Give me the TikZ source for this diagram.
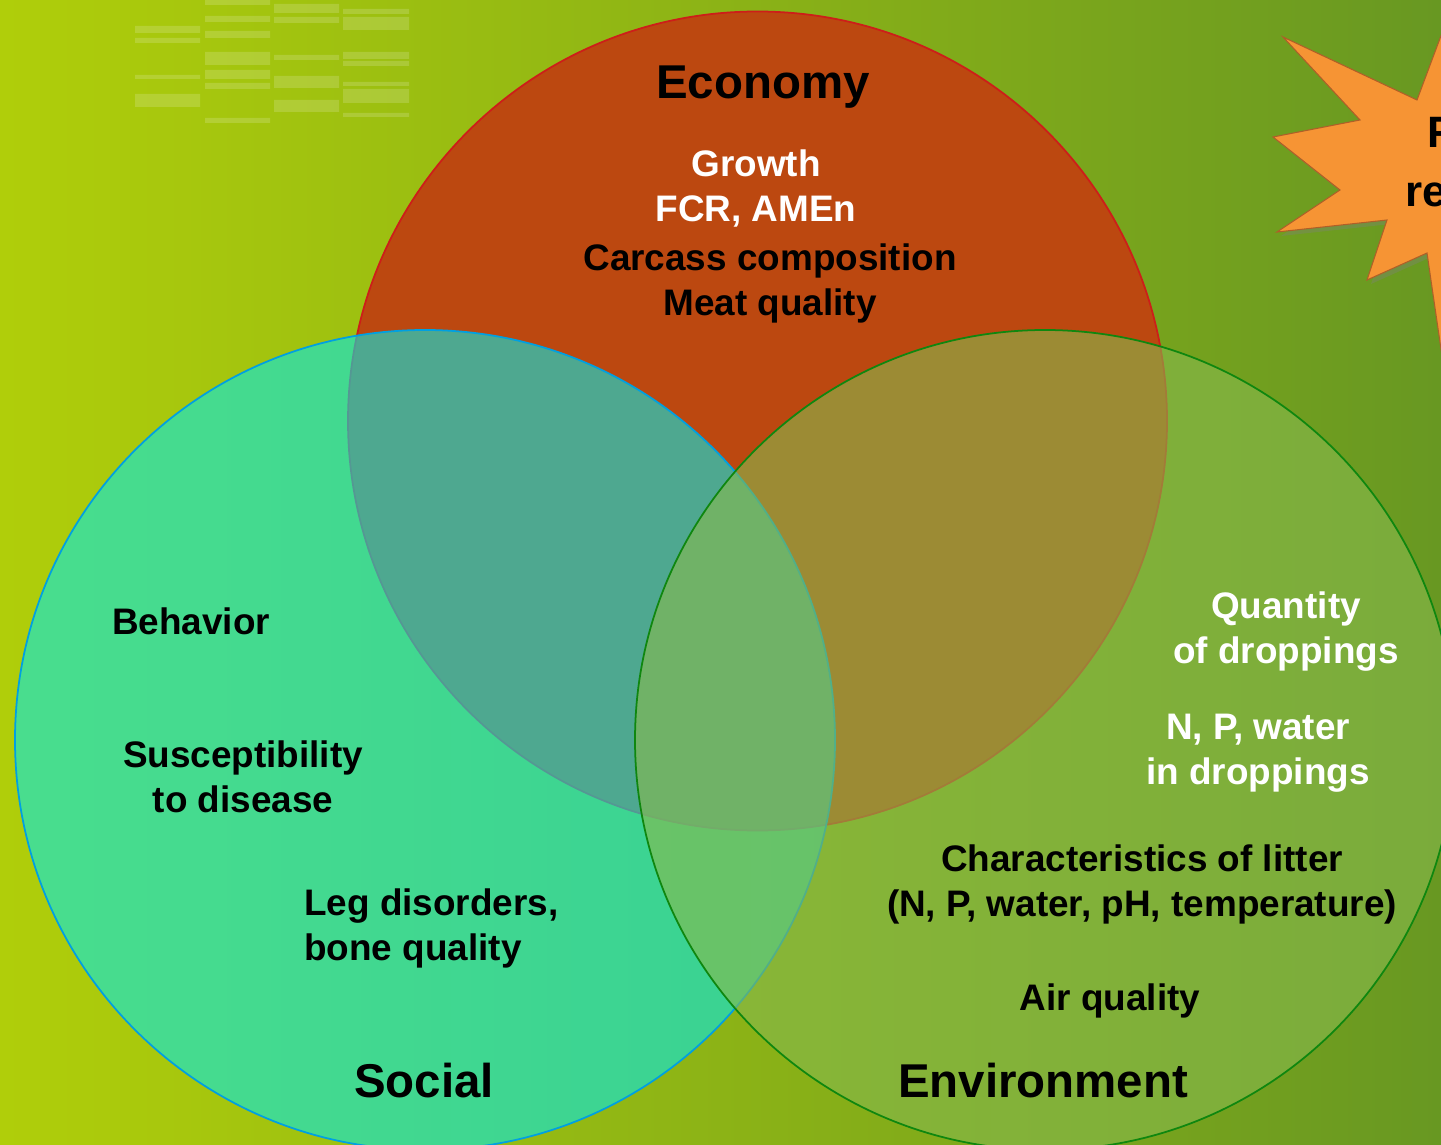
\documentclass[tikz,border=0pt]{standalone}
\usepackage{fontspec}
\setmainfont{Liberation Sans}
\usetikzlibrary{shadows}
\definecolor{bgleft}{RGB}{176,206,10}
\definecolor{bgmid}{RGB}{120,160,32}
\definecolor{bgright}{RGB}{104,152,34}
\definecolor{econcolor}{RGB}{188,72,16}
\definecolor{econline}{RGB}{205,30,25}
\definecolor{socialcolor}{RGB}{5,233,230}
\definecolor{socialline}{RGB}{0,160,225}
\definecolor{envcolor}{RGB}{135,185,77}
\definecolor{envline}{RGB}{15,135,15}
\definecolor{starcolor}{RGB}{246,148,52}
\definecolor{starline}{RGB}{175,95,40}

\begin{document}
\begin{tikzpicture}[
    title/.style={font=\fontsize{27}{32}\selectfont\bfseries, text=black},
    item/.style={font=\fontsize{21}{25.6}\selectfont\bfseries, text=#1, align=center},
    item/.default=black,
    bar/.style={fill=white, opacity=0.16},
    ring/.style={line width=1pt, draw=#1}
]
    \useasboundingbox (0,0) rectangle (28.82,22.88);
    \clip (0,0) rectangle (28.82,22.88);

    % Background
    \shade[left color=bgleft, middle color=bgmid, right color=bgright] (0,0) rectangle (28.82,22.88);
    \fill[bar] (2.7,22.36) rectangle (4.0,22.22) (2.7,22.12) rectangle (4.0,22.02)
        (2.7,21.38) rectangle (4.0,21.30) (2.7,21.00) rectangle (4.0,20.74);
    \fill[bar] (4.1,22.88) rectangle (5.4,22.78) (4.1,22.56) rectangle (5.4,22.44)
        (4.1,22.26) rectangle (5.4,22.12) (4.1,21.84) rectangle (5.4,21.58)
        (4.1,21.48) rectangle (5.4,21.30) (4.1,21.22) rectangle (5.4,21.10)
        (4.1,20.52) rectangle (5.4,20.42);
    \fill[bar] (5.48,22.80) rectangle (6.78,22.62) (5.48,22.54) rectangle (6.78,22.42)
        (5.48,21.78) rectangle (6.78,21.68) (5.48,21.36) rectangle (6.78,21.12)
        (5.48,20.88) rectangle (6.78,20.64);
    \fill[bar] (6.86,22.70) rectangle (8.18,22.60) (6.86,22.54) rectangle (8.18,22.28)
        (6.86,21.84) rectangle (8.18,21.70) (6.86,21.66) rectangle (8.18,21.56)
        (6.86,21.24) rectangle (8.18,21.16) (6.86,21.10) rectangle (8.18,20.82)
        (6.86,20.62) rectangle (8.18,20.54);

    % Star at the right edge
    \path[fill=starcolor, draw=starline, line width=0.6pt,
        drop shadow={opacity=0.35, shadow xshift=0.08, shadow yshift=-0.08}]
        (28.9,22.38) -- (28.34,20.88) -- (25.66,22.14) -- (27.2,20.48)
        -- (25.46,20.14) -- (26.8,19.08) -- (25.54,18.24) -- (27.74,18.48)
        -- (27.34,17.28) -- (28.54,17.82) -- (28.84,15.76) -- (29.6,17.0)
        -- (29.6,22.6) -- cycle;
    \node[font=\fontsize{25}{30}\selectfont\bfseries, anchor=base west] (starf) at (28.42,19.92) {F};
    \node[font=\fontsize{25}{30}\selectfont\bfseries, anchor=base west] (starre) at (27.98,18.74) {re};

    % Three circles
    \coordinate (econ) at (15.15,14.46);
    \coordinate (soc) at (8.5,8.08);
    \coordinate (env) at (20.9,8.08);
    \fill[econcolor] (econ) circle (8.19);
    \draw[ring=econline] (econ) circle (8.19);
    \fill[socialcolor, fill opacity=0.6] (soc) circle (8.2);
    \draw[ring=socialline] (soc) circle (8.2);
    \fill[envcolor, fill opacity=0.6] (env) circle (8.2);
    \draw[ring=envline] (env) circle (8.2);

    % Economy
    \node[title] (econtitle) at (15.26,21.14) {Economy};
    \node[item=white] (growth) at (15.12,19.12) {Growth\\FCR, AMEn};
    \node[item] (carcass) at (15.4,17.22) {Carcass composition\\Meat quality};

    % Social
    \node[item] (behavior) at (3.82,10.45) {Behavior};
    \node[item] (disease) at (4.86,7.34) {Susceptibility\\to disease};
    \node[item, align=left, anchor=west] (leg) at (5.96,4.31) {Leg disorders,\\bone quality};
    \node[title] (soctitle) at (8.48,1.26) {Social};

    % Environment
    \node[item=white] (quantity) at (25.72,10.25) {Quantity\\of droppings};
    \node[item=white] (npwater) at (25.16,7.82) {N, P, water\\in droppings};
    \node[item] (litter) at (22.84,5.2) {Characteristics of litter\\(N, P, water, pH, temperature)};
    \node[item] (air) at (22.2,2.86) {Air quality};
    \node[title] (envtitle) at (20.86,1.26) {Environment};
\end{tikzpicture}
\end{document}
